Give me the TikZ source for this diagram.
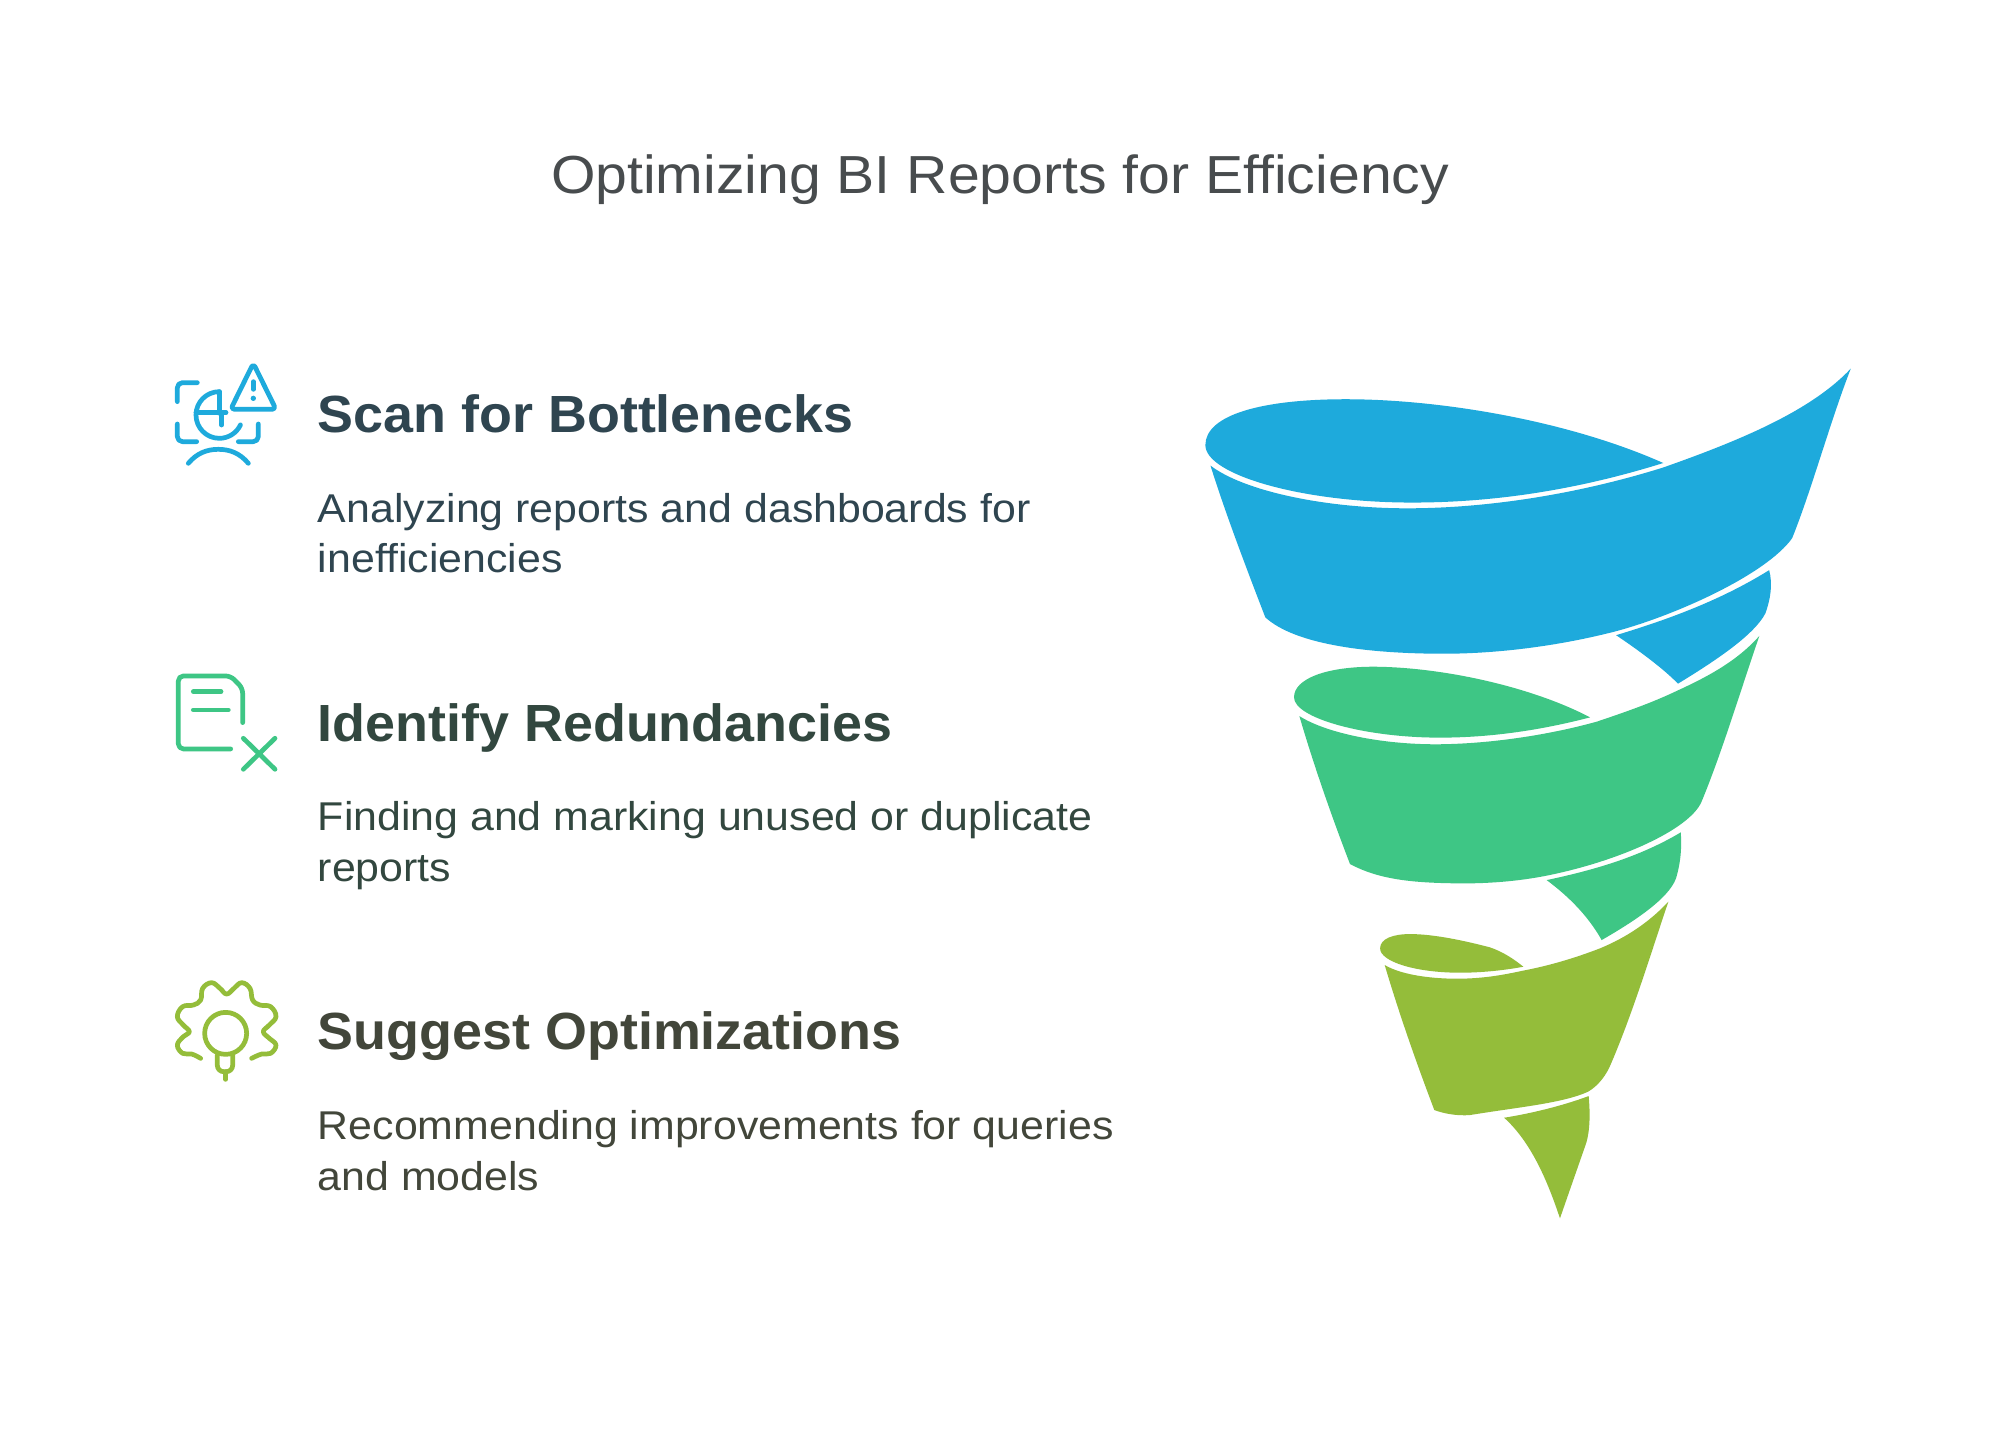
\documentclass[tikz,border=0pt]{standalone}
\usepackage{fontspec}
\setmainfont{Liberation Sans}[FakeStretch=1.067,BoldFeatures={FakeStretch=1.03}]
\definecolor{cblue}{HTML}{1EAADC}
\definecolor{cgreen}{HTML}{3EC685}
\definecolor{colive}{HTML}{94BD3A}
\definecolor{ctitle}{HTML}{484C4E}
\definecolor{tblue}{HTML}{2F4550}
\definecolor{tgreen}{HTML}{32473F}
\definecolor{tolive}{HTML}{42463A}
\tikzset{
 titletext/.style={anchor=base,inner sep=0pt,color=ctitle,font=\fontsize{42}{48}\selectfont},
 headtext/.style={anchor=base west,inner sep=0pt,font=\fontsize{41}{48}\selectfont\bfseries},
 bodytext/.style={anchor=base west,inner sep=0pt,font=\fontsize{31.5}{40}\selectfont},
 iconline/.style={line width=3.7pt,line cap=round,line join=round,rounded corners=4pt},
 iconframe/.style={shift={(#1)},x=0.2613pt,y=-0.2613pt},
}
\begin{document}
\begin{tikzpicture}[x=1pt,y=-1pt]
\useasboundingbox[fill=white] (0,0) rectangle (1568,1134);
\node[titletext] (title) at (784,152) {Optimizing BI Reports for Efficiency};
\node[headtext,color=tblue] (h1) at (249,339) {Scan for Bottlenecks};
\node[bodytext,color=tblue] (b1a) at (249,410) {Analyzing reports and dashboards for};
\node[bodytext,color=tblue] (b1b) at (249,449) {inefficiencies};
\node[headtext,color=tgreen] (h2) at (249,581) {Identify Redundancies};
\node[bodytext,color=tgreen] (b2a) at (249,651) {Finding and marking unused or duplicate};
\node[bodytext,color=tgreen] (b2b) at (249,691) {reports};
\node[headtext,color=tolive] (h3) at (249,823) {Suggest Optimizations};
\node[bodytext,color=tolive] (b3a) at (249,893) {Recommending improvements for queries};
\node[bodytext,color=tolive] (b3b) at (249,933) {and models};
% blue
\fill[cblue] (945,349) .. controls (945,325) and (990,313) .. (1055,313) .. controls (1130,313) and (1230,330) .. (1304,363) .. controls (1240,383) and (1175,394) .. (1107,394) .. controls (1020,394) and (945,372) .. (945,349) -- cycle;
\fill[cblue] (949,365) .. controls (975,385) and (1040,399) .. (1107,398.5) .. controls (1175,398) and (1245,385) .. (1304,366.5) .. controls (1365,345) and (1420,322) .. (1451,289) .. controls (1435,330) and (1420,385) .. (1405,422) .. controls (1385,450) and (1315,482) .. (1266.5,495) .. controls (1220,507) and (1170,513) .. (1126,512.5) .. controls (1070,512) and (1015,505) .. (992,484) .. controls (975,440) and (960,400) .. (949,365) -- cycle;
\fill[cblue] (1387,447) .. controls (1350,470) and (1310,485) .. (1267,498) .. controls (1285,510) and (1305,525) .. (1315.5,536) .. controls (1345,518) and (1375,498) .. (1384,481) .. controls (1388,470) and (1390,458) .. (1387,447) -- cycle;
% green
\fill[cgreen] (1014.5,546.7) .. controls (1014.5,532) and (1040,522.7) .. (1077,522.7) .. controls (1130,523) and (1200,538) .. (1246.6,562.4) .. controls (1210,572) and (1170,578.3) .. (1129,578.3) .. controls (1070,578.3) and (1014.5,563) .. (1014.5,546.7) -- cycle;
\fill[cgreen] (1018.7,561.4) .. controls (1040,575) and (1085,584) .. (1129,583.5) .. controls (1170,583) and (1215,576) .. (1251.8,565.8) .. controls (1275,558) and (1295,551) .. (1314.5,541.7) .. controls (1340,530) and (1362,518) .. (1379.3,498.6) .. controls (1365,540) and (1350,590) .. (1334,628.5) .. controls (1325,650) and (1270,675) .. (1212.6,686.5) .. controls (1190,691) and (1165,693) .. (1139.5,692.5) .. controls (1105,692) and (1080,689) .. (1058.4,677.4) .. controls (1044,640) and (1030,600) .. (1018.7,561.4) -- cycle;
\fill[cgreen] (1317.7,652.6) .. controls (1285,672) and (1250,682) .. (1212.6,690) .. controls (1230,703) and (1245,718) .. (1255.7,737) .. controls (1280,723) and (1308,705) .. (1314,688.6) .. controls (1318,675) and (1318.5,663) .. (1317.7,652.6) -- cycle;
% olive
\fill[colive] (1082,743.5) .. controls (1082,736) and (1092,732.3) .. (1105.5,732.3) .. controls (1125,732.3) and (1150,738) .. (1168,742.7) .. controls (1178,746) and (1187,752) .. (1194.3,757.9) .. controls (1178,761) and (1160,762.6) .. (1144.7,762.6) .. controls (1110,762.6) and (1082,754) .. (1082,743.5) -- cycle;
\fill[colive] (1085.6,756.6) .. controls (1100,765) and (1125,767.5) .. (1144.7,767.3) .. controls (1165,767) and (1180,764) .. (1194,761) .. controls (1215,757) and (1235,751) .. (1254.4,743.5) .. controls (1275,735) and (1293,723) .. (1308,706.9) .. controls (1295,745) and (1280,795) .. (1262,836.3) .. controls (1257,847) and (1250,853) .. (1245,855.9) .. controls (1225,865) and (1190,868) .. (1152.5,874.2) .. controls (1142,875) and (1132,873) .. (1124.5,870.3) .. controls (1110,832) and (1097,795) .. (1085.6,756.6) -- cycle;
\fill[colive] (1245.5,859.3) .. controls (1225,867) and (1200,873) .. (1179.2,876.3) .. controls (1200,895) and (1213,925) .. (1223,955.2) .. controls (1230,935) and (1237,915) .. (1243.5,896.4) .. controls (1247,885) and (1246.5,870) .. (1245.5,859.3) -- cycle;
% icon 1
\begin{scope}[iconframe={125.44,274.4}]
\draw[iconline,cblue] (112,98) -- (52,98) -- (52,155);
\draw[iconline,cblue] (52,222) -- (52,275) -- (110,275);
\draw[iconline,cblue] (235,275) -- (295,275) -- (295,222);
\draw[iconline,cblue,rounded corners=0pt] (178,125) arc[start angle=-90,end angle=-335,radius=70];
\draw[iconline,cblue,rounded corners=0pt] (178,125) -- (178,190) (108,188) -- (198,188) (185,190) -- (185,225);
\draw[iconline,cblue,rounded corners=0pt] (85,340) .. controls (110,310) and (140,298) .. (175,298) .. controls (210,298) and (240,310) .. (265,340);
\draw[iconline,cblue,rounded corners=3pt] (280,40) -- (348,178) -- (212,178) -- cycle;
\draw[iconline,cblue,rounded corners=0pt] (280,95) -- (280,118);
\fill[cblue] (280,145) circle[radius=8];
\end{scope}
% icon 2
\begin{scope}[iconframe={125.44,517.4}]
\draw[iconline,cgreen] (212,267) -- (55,267) -- (55,48) -- (212,48) -- (248,85) -- (248,188);
\draw[iconline,cgreen] (100,95) -- (183,95) (100,150) -- (205,150);
\draw[iconline,cgreen] (250,235) -- (345,328) (345,235) -- (250,328);
\end{scope}
% icon 3
\begin{scope}[iconframe={125.44,760.5}]
\draw[iconline,colive,rounded corners=0pt] plot[smooth,tension=0.7] coordinates {(122,265) (95,252) (68,250) (52,225) (70,200) (88,185) (70,165) (52,140) (68,110) (100,105) (122,90) (128,55) (155,38) (180,55) (200,72) (222,55) (245,38) (270,55) (278,90) (300,105) (332,110) (348,140) (328,165) (310,185) (328,205) (348,225) (332,250) (305,252) (275,265)};
\draw[iconline,colive,rounded corners=0pt] (197,190) circle[radius=63];
\draw[iconline,colive,rounded corners=5pt] (172,255) -- (172,305) -- (218,305) -- (218,255);
\draw[iconline,colive,rounded corners=0pt] (197,305) -- (197,328);
\end{scope}
\end{tikzpicture}
\end{document}
